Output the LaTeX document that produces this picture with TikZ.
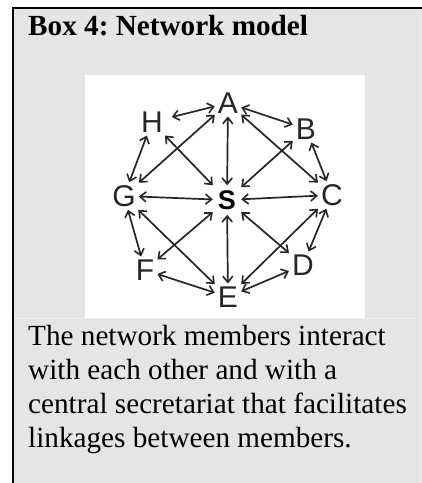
\documentclass[tikz,border=0pt]{standalone}
\usepackage{fontspec}
\setmainfont{Liberation Serif}
\newfontfamily\diagfont{Liberation Sans}
\usetikzlibrary{arrows.meta}
\frenchspacing
\definecolor{boxgrey}{HTML}{E5E5E5}
\definecolor{sepgrey}{HTML}{EFEFEF}
\definecolor{arrowgrey}{HTML}{262626}
\tikzset{
  member/.style={rectangle, inner sep=3pt, font=\diagfont\fontsize{30}{30}\selectfont, text=arrowgrey},
  secr/.style={rectangle, inner sep=5pt, font=\diagfont\bfseries\fontsize{27}{27}\selectfont, text=black},
  link/.style={draw=arrowgrey, line width=1.7pt,
    {Straight Barb[length=6pt,width=10pt,line width=1.6pt]}-{Straight Barb[length=6pt,width=10pt,line width=1.6pt]}},
  frameline/.style={draw=black, line width=2pt},
}
\begin{document}
\begin{tikzpicture}[x=1pt,y=-1pt]
\useasboundingbox (0,0) rectangle (422,483);
\fill[white] (0,0) rectangle (422,483);
\fill[boxgrey] (13,8) rectangle (422,483);
\draw[sepgrey, line width=1pt] (14,318) -- (420,318);
\draw[sepgrey, line width=1pt] (420,9) -- (420,483);
\fill[white] (85,75) rectangle (365,318);
\draw[frameline] (13,483) -- (13,8) -- (422,8);
% title
\node[anchor=base west, inner sep=0pt, font=\bfseries\fontsize{29.2}{34}\selectfont] (title) at (28,35) {Box 4: Network model};
% members
\node[member] (A) at (228,103) {A};
\node[member] (B) at (306,129) {B};
\node[member] (C) at (332,195) {C};
\node[member] (D) at (303,265) {D};
\node[member] (E) at (228,297) {E};
\node[member] (F) at (145,270) {F};
\node[member] (G) at (124,196) {G};
\node[member] (H) at (152,122) {H};
\node[secr] (S) at (227,200) {S};
% ring
\draw[link, shorten <=6pt] (H) -- (A);
\draw[link] (A) -- (B);
\draw[link] (B) -- (C);
\draw[link] (C) -- (D);
\draw[link] (D) -- (E);
\draw[link] (E) -- (F);
\draw[link] (F) -- (G);
\draw[link] (G) -- (H);
% spokes
\draw[link] (S) -- (A);
\draw[link] (S) -- (B);
\draw[link] (S) -- (C);
\draw[link] (S) -- (D);
\draw[link] (S) -- (E);
\draw[link] (S) -- (F);
\draw[link] (S) -- (G);
\draw[link] (S) -- (H);
% diamond
\draw[link] (A) -- (C);
\draw[link] (A) -- (G);
\draw[link] (G) -- (E);
\draw[link] (C) -- (E);
% caption (base anchor = baseline of the last line)
\node[anchor=base west, inner sep=0pt, align=left, font=\fontsize{29.2}{34}\selectfont] (caption) at (28,447)
  {The network members interact\\with each other and with a\\central secretariat that facilitates\\linkages between members.};
\end{tikzpicture}
\end{document}
